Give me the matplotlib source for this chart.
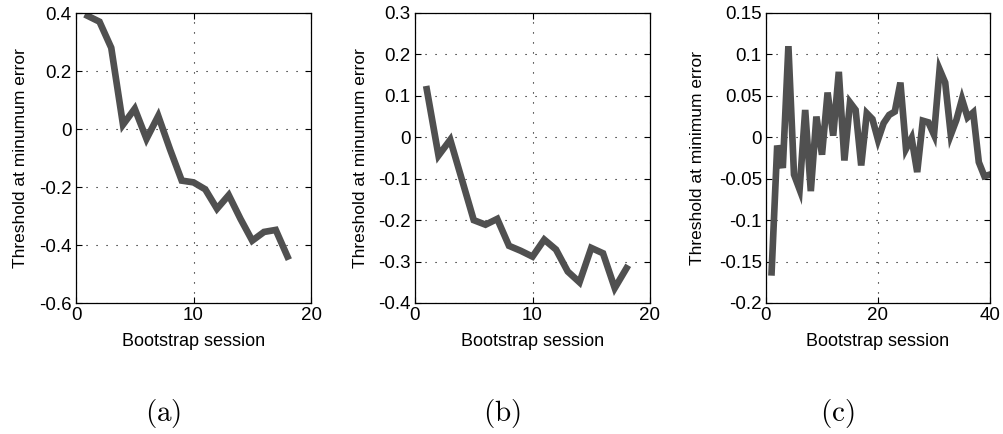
import matplotlib
matplotlib.use('Agg')
import matplotlib.pyplot as plt
from matplotlib.ticker import FuncFormatter

plt.rcParams['font.family'] = ['Liberation Sans', 'DejaVu Sans']
plt.rcParams['axes.unicode_minus'] = False
plt.rcParams['mathtext.fontset'] = 'cm'

# threshold at minimum error per bootstrap session
thr_a = [0.39, 0.37, 0.28, 0.015, 0.07, -0.034, 0.045, -0.07, -0.178, -0.184,
         -0.208, -0.275, -0.228, -0.31, -0.385, -0.355, -0.348, -0.44]
thr_b = [0.116, -0.044, -0.006, -0.103, -0.2, -0.211, -0.197, -0.262, -0.274, -0.288,
         -0.247, -0.271, -0.324, -0.35, -0.267, -0.28, -0.364, -0.316]
thr_c = [-0.163, -0.01, -0.037, 0.11, -0.045, -0.063, 0.033, -0.065, 0.025, -0.021,
         0.054, 0.002, 0.079, -0.028, 0.042, 0.033, -0.034, 0.029, 0.022, -0.003,
         0.017, 0.027, 0.031, 0.066, -0.014, -0.001, -0.042, 0.02, 0.018, 0.003,
         0.082, 0.066, 0.003, 0.021, 0.046, 0.024, 0.03, -0.03, -0.047, -0.045]

ylabels = ["Threshold at minumum error", "Threshold at minumum error", "Threshold at minimum error"]
captions = ["(a)", "(b)", "(c)"]
xlims = [(0, 20), (0, 20), (0, 40)]
xticks = [[0, 10, 20], [0, 10, 20], [0, 20, 40]]
ylims = [(-0.6, 0.4), (-0.4, 0.3), (-0.2, 0.15)]
yticks = [[-0.6, -0.4, -0.2, 0, 0.2, 0.4],
          [-0.4, -0.3, -0.2, -0.1, 0, 0.1, 0.2, 0.3],
          [-0.2, -0.15, -0.1, -0.05, 0, 0.05, 0.1, 0.15]]

fig = plt.figure(figsize=(10.04, 4.34), dpi=100, facecolor='white')
W, H = 1004.0, 434.0
# axes boxes in pixels: left, right
boxes = [(76, 311), (415, 650), (766, 990)]
top, bot = 13, 303
ylab_x = [-0.204, -0.2, -0.272]
cap_x = [163, 502, 837]

data = [thr_a, thr_b, thr_c]
fmt = FuncFormatter(lambda v, p: '%g' % round(v, 4))
for k in range(3):
    l, r = boxes[k]
    ax = fig.add_axes([l / W, (H - bot) / H, (r - l) / W, (bot - top) / H])
    y = data[k]
    x = list(range(1, len(y) + 1))
    ax.plot(x, y, color='#505050', lw=4.8, solid_joinstyle='miter')
    ax.set_xlim(xlims[k])
    ax.set_ylim(ylims[k])
    ax.set_xticks(xticks[k])
    ax.set_yticks(yticks[k])
    ax.yaxis.set_major_formatter(fmt)
    ax.grid(True, color='black', linestyle=(0, (1, 8)), lw=0.8)
    ax.tick_params(direction='in', length=4, width=0.8, top=True, right=True,
                   labelsize=13.5, pad=3)
    for s in ax.spines.values():
        s.set_linewidth(0.9)
    ax.set_xlabel("Bootstrap session", fontsize=13)
    ax.xaxis.set_label_coords(0.5, -0.103)
    ax.set_ylabel(ylabels[k], fontsize=12.5)
    ax.yaxis.set_label_coords(ylab_x[k], 0.5)
    fig.text(cap_x[k] / W, (H - 414) / H, r'$\mathrm{' + captions[k] + '}$',
             ha='center', va='center', fontsize=21)

plt.savefig('out.png', dpi=100, facecolor='white')
